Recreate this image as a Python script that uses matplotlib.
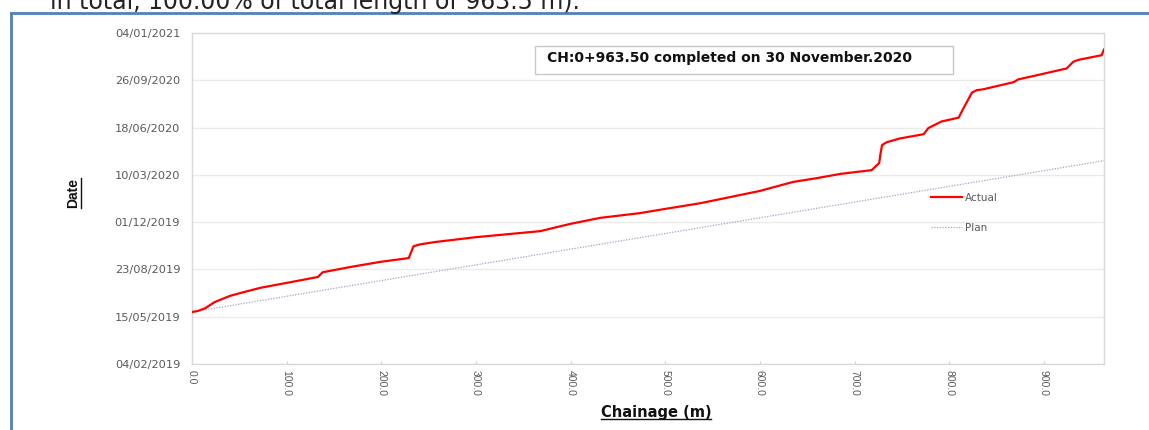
import matplotlib
matplotlib.use('Agg')
import numpy as np
import pandas as pd
import matplotlib.pyplot as plt
import matplotlib.dates as mdates
from matplotlib.lines import Line2D
from matplotlib.patches import Rectangle
from matplotlib.ticker import FormatStrFormatter
from matplotlib import font_manager

# chainage (m) vs completion date
chainage = [0, 6, 14, 24, 40, 51, 72, 104, 133, 138,
            167, 199, 229, 234, 241, 257, 299, 368, 399, 431,
            473, 500, 537, 600, 611, 635, 660, 685, 718, 726,
            727.5, 729, 734, 748, 773, 778, 792, 810, 813, 817,
            824, 829, 836, 868, 873, 889, 924, 931, 936, 961,
            963.5]
actual_dates = ['2019-05-25', '2019-05-27', '2019-06-02', '2019-06-15', '2019-06-28',
                '2019-07-04', '2019-07-15', '2019-07-27', '2019-08-07', '2019-08-17',
                '2019-08-28', '2019-09-08', '2019-09-16', '2019-10-11', '2019-10-15',
                '2019-10-20', '2019-10-30', '2019-11-12', '2019-11-27', '2019-12-10',
                '2019-12-20', '2019-12-29', '2020-01-10', '2020-02-05', '2020-02-11',
                '2020-02-24', '2020-03-03', '2020-03-12', '2020-03-20', '2020-04-04',
                '2020-04-25', '2020-05-12', '2020-05-18', '2020-05-26', '2020-06-04',
                '2020-06-17', '2020-07-01', '2020-07-09', '2020-07-21', '2020-08-05',
                '2020-08-31', '2020-09-05', '2020-09-07', '2020-09-22', '2020-09-28',
                '2020-10-05', '2020-10-21', '2020-11-04', '2020-11-08', '2020-11-18',
                '2020-11-30']
plan_chainage = [0.0, 963.5]
plan_dates = ['2019-05-25', '2020-04-09']

y_start = '2019-02-04'
y_end = '2021-01-04'
x_ticks = [0, 100, 200, 300, 400, 500, 600, 700, 800, 900]
note = 'CH:0+963.50 completed on 30 November.2020'
top_text = 'in total, 100.00% of total length of 963.5 m).'

installed = {f.name for f in font_manager.fontManager.ttflist}
narrow = 'Liberation Sans Narrow' if 'Liberation Sans Narrow' in installed else 'Liberation Sans'

W, H = 1149, 430
fig = plt.figure(figsize=(W / 100, H / 100), dpi=100)
ax = fig.add_axes([192 / W, 1 - 364 / H, (1104 - 192) / W, (364 - 33) / H])

act_d = pd.to_datetime(actual_dates)
plan_d = pd.to_datetime(plan_dates)
y_ticks = pd.date_range(y_start, y_end, freq='100D')

ax.plot(plan_chainage, plan_d, color='#9aa6c4', lw=0.9, ls=(0, (1, 1.2)), label='Plan', zorder=2)
ax.plot(chainage, act_d, color='#ff0000', lw=1.6, label='Actual', zorder=3)

ax.set_xlim(0, 963.5)
ax.set_ylim(pd.Timestamp(y_start), pd.Timestamp(y_end))
ax.set_xticks(x_ticks)
ax.xaxis.set_major_formatter(FormatStrFormatter('%.1f'))
ax.set_yticks(y_ticks)
ax.yaxis.set_major_formatter(mdates.DateFormatter('%d/%m/%Y'))
ax.grid(axis='y', color='#ebebeb', lw=1)
ax.set_axisbelow(True)
for s in ax.spines.values():
    s.set_color('#d9d9d9')
    s.set_linewidth(1)

ax.tick_params(axis='x', direction='in', length=2.5, color='#d0d0d0', pad=4,
               labelsize=7.5, labelcolor='#595959', labelrotation=270)
ax.tick_params(axis='y', length=0, pad=8.5, labelsize=8.2, labelcolor='#595959')
for lb in ax.get_xticklabels():
    lb.set_fontfamily('Liberation Sans')
for lb in ax.get_yticklabels():
    lb.set_fontfamily('DejaVu Sans')

h, l = ax.get_legend_handles_labels()
leg = ax.legend(h[::-1], l[::-1], loc='upper left', bbox_to_anchor=(931 / W, 1 - 193 / H),
                bbox_transform=fig.transFigure, frameon=False, fontsize=7.5,
                labelspacing=1.9, handlelength=3.0, handletextpad=0.3,
                borderpad=0, borderaxespad=0)
for t in leg.get_texts():
    t.set_color('#595959')
    t.set_fontfamily('DejaVu Sans')

# note box
fig.add_artist(Rectangle((535 / W, 1 - 74 / H), (953 - 535) / W, 28 / H,
                         transform=fig.transFigure, fill=False, ec='#c8c8c8', lw=1))
fig.text(547 / W, 1 - 58 / H, note, fontsize=10, fontweight='bold',
         family='DejaVu Sans', va='center', ha='left', color='#111111')

# axis labels (underlined)
xl = fig.text(656 / W, 1 - 412 / H, 'Chainage (m)', fontsize=10.5, fontweight='bold',
              family='DejaVu Sans', ha='center', va='center', color='#111111')
yl = fig.text(73 / W, 1 - 193 / H, 'Date', fontsize=10, fontweight='bold',
              family=narrow, rotation=90, ha='center', va='center', color='#111111')

# clipped text from the page above
fig.text(50 / W, 1 - 9 / H, top_text, fontsize=17, family='DejaVu Sans',
         va='baseline', ha='left', color='#222222')

# page border
fig.add_artist(Line2D([11 / W, 11 / W], [0, 1 - 13 / H], transform=fig.transFigure,
                      color='#4f81bd', lw=2))
fig.add_artist(Line2D([11 / W, 1], [1 - 13 / H, 1 - 13 / H], transform=fig.transFigure,
                      color='#4f81bd', lw=2))

fig.canvas.draw()
r = fig.canvas.get_renderer()
inv = fig.transFigure.inverted()
bb = xl.get_window_extent(r).transformed(inv)
fig.add_artist(Line2D([bb.x0, bb.x1], [bb.y0 + 0.5 / H, bb.y0 + 0.5 / H],
                      transform=fig.transFigure, color='#111111', lw=1))
bb = yl.get_window_extent(r).transformed(inv)
fig.add_artist(Line2D([bb.x1 + 1 / W, bb.x1 + 1 / W], [bb.y0, bb.y1],
                      transform=fig.transFigure, color='#111111', lw=1))

fig.savefig('out.png', dpi=100)
